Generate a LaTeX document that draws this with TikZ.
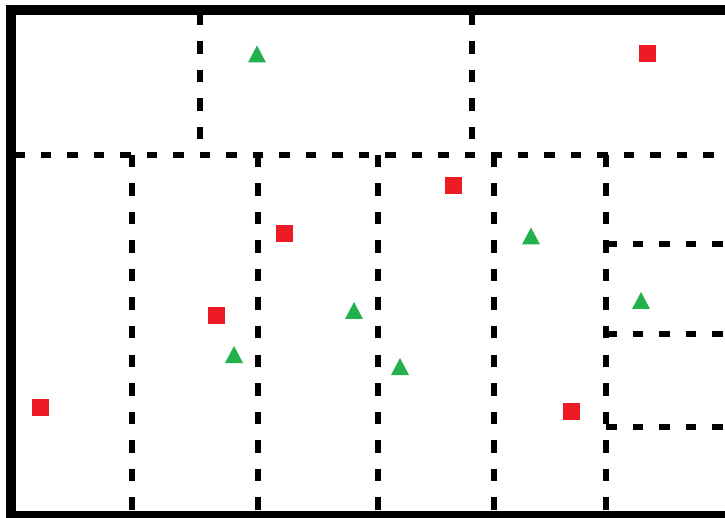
\documentclass[tikz,border=0pt]{standalone}
\definecolor{myred}{HTML}{ED1C24}
\definecolor{mygreen}{HTML}{22B14C}
\tikzset{
  frame/.style={line width=10pt, draw=black},
  dline/.style={line width=5.5pt, draw=black, dash pattern=on 10.5pt off 16pt},
  vline/.style={line width=5.5pt, draw=black, dash pattern=on 12.5pt off 16pt},
  sq/.pic={\fill[myred] (-8.5,-8.5) rectangle (8.5,8.5);},
  tri/.pic={\fill[mygreen] (-9,8.5) -- (9,8.5) -- (0,-8.5) -- cycle;}
}
\begin{document}
\begin{tikzpicture}[x=1pt,y=-1pt]
\useasboundingbox (0,0) rectangle (725,518);
\clip (0,0) rectangle (725,518);
% dashed partitions
\coordinate (hL) at (14,155);
\coordinate (hR) at (740,155);
\draw[dline] (hL) -- (hR);
\foreach \x in {200,472} \draw[vline] (\x,13) -- (\x,155);
\foreach \x in {132,258,378,494,606} \draw[vline] (\x,155) -- (\x,514);
\foreach \y in {244,334,427} \draw[dline] (606,\y) -- (740,\y);
% frame
\draw[frame] (11,530) -- (11,10) -- (740,10);
\draw[frame] (6,516) -- (740,516);
% markers
\pic at (647,54) {sq};
\pic at (453,186) {sq};
\pic at (284,234) {sq};
\pic at (216,316) {sq};
\pic at (40,407) {sq};
\pic at (571,411) {sq};
\pic at (257,54) {tri};
\pic at (531,236) {tri};
\pic at (641,300.5) {tri};
\pic at (354,310.5) {tri};
\pic at (234,354.5) {tri};
\pic at (400,366.5) {tri};
\end{tikzpicture}
\end{document}
